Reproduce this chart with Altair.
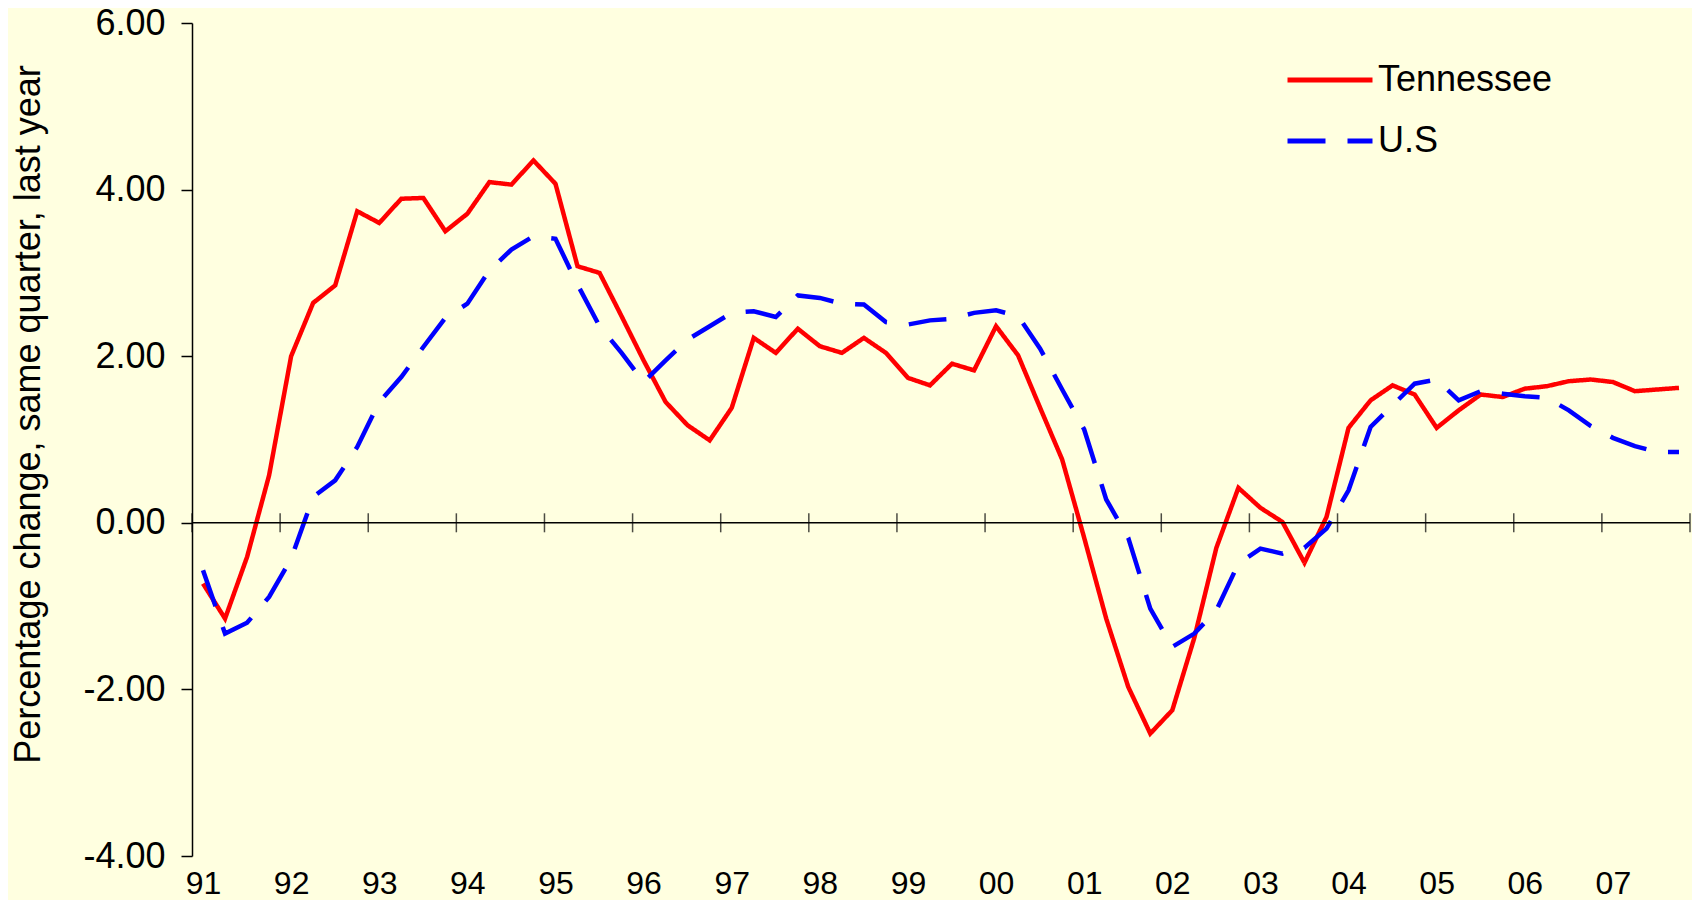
import altair as alt
import pandas as pd

# ---- data (quarterly, 1991Q1 .. 2007Q4) ----
years = ["91", "92", "93", "94", "95", "96", "97", "98", "99",
         "00", "01", "02", "03", "04", "05", "06", "07"]

tennessee = [
    -0.73, -1.15, -0.41, 0.57,
    2.00, 2.64, 2.85, 3.74,
    3.60, 3.89, 3.90, 3.50,
    3.71, 4.09, 4.06, 4.35,
    4.07, 3.08, 3.00, 2.48,
    1.95, 1.45, 1.17, 0.99,
    1.38, 2.22, 2.04, 2.33,
    2.12, 2.04, 2.22, 2.04,
    1.74, 1.65, 1.91, 1.83,
    2.36, 2.01, 1.38, 0.76,
    -0.18, -1.15, -1.97, -2.53,
    -2.25, -1.38, -0.30, 0.42,
    0.18, 0.01, -0.48, 0.07,
    1.14, 1.47, 1.65, 1.54,
    1.14, 1.35, 1.54, 1.51,
    1.61, 1.64, 1.70, 1.72,
    1.69, 1.58, 1.60, 1.62,
]

us = [
    -0.57, -1.33, -1.20, -0.89,
    -0.43, 0.31, 0.51, 0.91,
    1.45, 1.75, 2.11, 2.46,
    2.63, 3.03, 3.28, 3.44,
    3.41, 2.86, 2.36, 2.04,
    1.69, 1.95, 2.20, 2.36,
    2.52, 2.54, 2.47, 2.73,
    2.70, 2.63, 2.62, 2.41,
    2.38, 2.43, 2.45, 2.52,
    2.55, 2.48, 2.09, 1.60,
    1.12, 0.28, -0.18, -1.03,
    -1.49, -1.33, -1.05, -0.49,
    -0.31, -0.37, -0.30, -0.07,
    0.39, 1.15, 1.41, 1.67,
    1.72, 1.47, 1.58, 1.55,
    1.52, 1.50, 1.35, 1.16,
    1.02, 0.92, 0.85, 0.85,
]

series_names = ["Tennessee", "U.S"]
y_ticks = [-4, -2, 0, 2, 4, 6]

# ---- tables built from the arrays ----
rows = []
for name, vals in zip(series_names, [tennessee, us]):
    for i, v in enumerate(vals):
        rows.append({"q": i + 0.5, "value": v, "series": name})
df = pd.DataFrame(rows)

n_q = 4 * len(years)
bounds = pd.DataFrame({"q": [4 * k for k in range(len(years) + 1)],
                       "value": [0] * (len(years) + 1)})
zero_line = pd.DataFrame({"value": [0]})

label_array = "[" + ",".join("'" + y + "'" for y in years) + "]"
label_expr = label_array + "[floor(datum.value / 4)]"
y_label_expr = "(datum.value < 0 ? '-' : '') + format(abs(datum.value), '.2f')"

FONT = "Liberation Sans"

x_enc = alt.X(
    "q:Q",
    scale=alt.Scale(domain=[0, n_q], nice=False, zero=False),
    axis=alt.Axis(
        values=[4 * k + 0.5 for k in range(len(years))],
        labelExpr=label_expr,
        domain=False, ticks=False, grid=False,
        labelFontSize=32, labelFont=FONT, labelColor="black",
        labelPadding=37, labelBaseline="alphabetic",
        title=None,
    ),
)
y_enc = alt.Y(
    "value:Q",
    scale=alt.Scale(domain=[-4, 6], nice=False, zero=False),
    axis=alt.Axis(
        values=y_ticks, labelExpr=y_label_expr, grid=False,
        domainColor="black", domainWidth=1.5,
        tickColor="black", tickWidth=1.5, tickSize=11,
        labelFontSize=36, labelFont=FONT, labelColor="black", labelPadding=16,
        title="Percentage change, same quarter, last year",
        titleFontSize=36, titleFont=FONT, titleFontWeight="normal", titleColor="black",
        titleAngle=-90, titleAlign="center", titleBaseline="middle",
        titleX=-164, titleY=391,
    ),
)

legend_cfg = dict(
    title=None, orient="none", legendX=1093, legendY=37,
    symbolType="stroke", symbolSize=7225, symbolStrokeWidth=5,
    labelFontSize=36, labelFont=FONT, labelColor="black", labelOffset=3,
    labelLimit=0, clipHeight=40, rowPadding=21, padding=0,
)

lines = alt.Chart(df).mark_line(strokeWidth=4.5).encode(
    x=x_enc,
    y=y_enc,
    color=alt.Color("series:N",
                    scale=alt.Scale(domain=series_names, range=["#FF0000", "#0000FF"]),
                    legend=alt.Legend(**legend_cfg)),
    strokeDash=alt.StrokeDash("series:N",
                              scale=alt.Scale(domain=series_names, range=[[1, 0], [38, 22]]),
                              legend=alt.Legend(**legend_cfg)),
)

axis_line = alt.Chart(zero_line).mark_rule(color="black", strokeWidth=1.5).encode(
    y=alt.Y("value:Q")
)

year_ticks = alt.Chart(bounds).mark_tick(
    orient="vertical", size=19, thickness=1.5, color="black"
).encode(x=alt.X("q:Q"), y=alt.Y("value:Q"))

chart = alt.layer(lines, axis_line, year_ticks).properties(
    width=1498,
    height=833,
    autosize=alt.AutoSizeParams(type="none"),
    padding={"left": 184, "top": 15, "right": 2, "bottom": 44},
    background="#FFFFE0",
).configure_view(stroke="transparent")

chart.save("out.html", embed_options={"renderer": "svg", "actions": False})
